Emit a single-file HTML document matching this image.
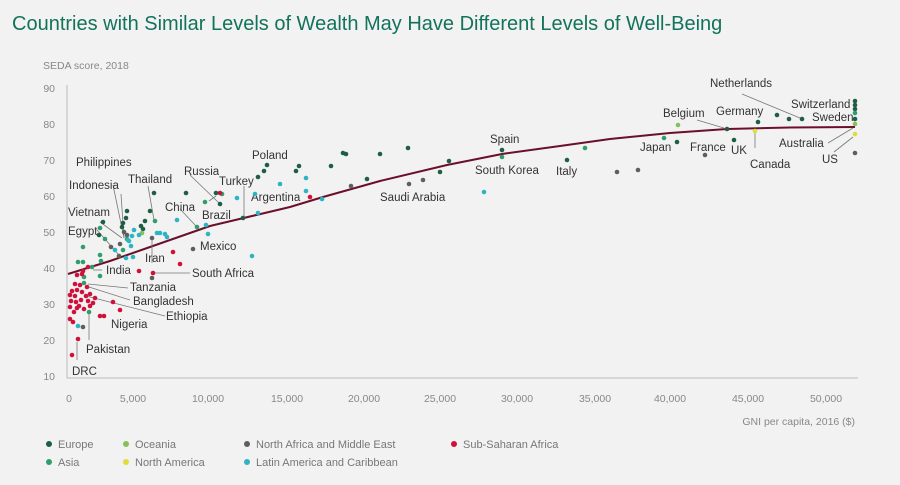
<!DOCTYPE html>
<html><head><meta charset="utf-8"><style>
body{margin:0;background:#f2f2f2;}
svg{display:block;font-family:"Liberation Sans",sans-serif;}
.l{font-size:11.5px;fill:#333;}
.t{font-size:10.5px;fill:#888;}
.g{font-size:11px;fill:#777;}
</style></head><body>
<svg width="900" height="485" viewBox="0 0 900 485">
<rect width="900" height="485" fill="#f2f2f2"/>
<text x="12" y="30" font-size="20" fill="#12735a">Countries with Similar Levels of Wealth May Have Different Levels of Well-Being</text>
<text x="43" y="69" class="t">SEDA score, 2018</text>
<g class="t" text-anchor="end">
<text x="55" y="92">90</text><text x="55" y="128">80</text><text x="55" y="164">70</text><text x="55" y="200">60</text><text x="55" y="236">50</text><text x="55" y="272">40</text><text x="55" y="308">30</text><text x="55" y="344">20</text><text x="55" y="380">10</text>
</g>
<g class="t" text-anchor="middle">
<text x="69" y="402">0</text><text x="133" y="402">5,000</text><text x="208" y="402">10,000</text><text x="287" y="402">15,000</text><text x="364" y="402">20,000</text><text x="440" y="402">25,000</text><text x="517" y="402">30,000</text><text x="595" y="402">35,000</text><text x="670" y="402">40,000</text><text x="748" y="402">45,000</text><text x="826" y="402">50,000</text>
</g>
<text x="855" y="425" class="t" text-anchor="end">GNI per capita, 2016 ($)</text>
<path d="M67,85V378H858" fill="none" stroke="#bbb" stroke-width="1"/>
<polyline points="68,274 110,261 150,247 210,226 290,207 323,197 380,181 447,165 502,154 560,146 610,139 670,133 727,129 790,127.5 855,127" fill="none" stroke="#6b0f2a" stroke-width="2"/>
<g stroke="#777" stroke-width="0.8" fill="none">
<path d="M742,94L800,118"/><path d="M697,120L724,128"/><path d="M828,143L853,128"/><path d="M834,152L853,137"/><path d="M755,148V131"/>
<path d="M190,175L219,203"/><path d="M244,186V217"/><path d="M216,196L209,201"/><path d="M180,209L196,226"/>
<path d="M148,186L154,220"/><path d="M121,194L124,238"/><path d="M113,185L124,238"/><path d="M100,222L122,238"/><path d="M97,230L119,255"/>
<path d="M152,263V238"/><path d="M190,273H154"/><path d="M102,270H93"/><path d="M128,288L88,284"/><path d="M130,300L89,287"/><path d="M165,316L86,296"/>
<path d="M89,340V314"/><path d="M77,360V342"/>
</g>
<g class="l">
<text x="710" y="87">Netherlands</text><text x="791" y="108">Switzerland</text><text x="812" y="121">Sweden</text><text x="663" y="117">Belgium</text><text x="716" y="115">Germany</text>
<text x="779" y="147">Australia</text><text x="822" y="163">US</text><text x="750" y="168">Canada</text><text x="731" y="154">UK</text><text x="690" y="151">France</text><text x="640" y="151">Japan</text>
<text x="490" y="143">Spain</text><text x="475" y="174">South Korea</text><text x="556" y="175">Italy</text><text x="380" y="201">Saudi Arabia</text>
<text x="252" y="159">Poland</text><text x="219" y="185">Turkey</text><text x="251" y="201">Argentina</text><text x="184" y="175">Russia</text><text x="202" y="219">Brazil</text><text x="165" y="211">China</text>
<text x="128" y="183">Thailand</text><text x="76" y="166">Philippines</text><text x="69" y="189">Indonesia</text><text x="68" y="216">Vietnam</text><text x="68" y="235">Egypt</text>
<text x="200" y="250">Mexico</text><text x="145" y="262">Iran</text><text x="106" y="274">India</text><text x="192" y="277">South Africa</text>
<text x="130" y="291">Tanzania</text><text x="133" y="305">Bangladesh</text><text x="166" y="320">Ethiopia</text><text x="111" y="328">Nigeria</text><text x="86" y="353">Pakistan</text><text x="72" y="375">DRC</text>
</g>
<g id="dots">
<!-- Europe -->
<g fill="#1d5e45">
<circle cx="855" cy="101" r="2.3"/><circle cx="855" cy="105" r="2.3"/><circle cx="855" cy="109" r="2.3"/><circle cx="855" cy="119" r="2.3"/><circle cx="758" cy="122" r="2.3"/><circle cx="777" cy="115" r="2.3"/><circle cx="789" cy="119" r="2.3"/><circle cx="802" cy="119" r="2.3"/><circle cx="727" cy="129" r="2.3"/><circle cx="677" cy="142" r="2.3"/><circle cx="734" cy="140" r="2.3"/>
<circle cx="502" cy="150" r="2.3"/><circle cx="567" cy="160" r="2.3"/><circle cx="440" cy="172" r="2.3"/><circle cx="449" cy="161" r="2.3"/><circle cx="408" cy="148" r="2.3"/><circle cx="380" cy="154" r="2.3"/><circle cx="343" cy="153" r="2.3"/><circle cx="346" cy="154" r="2.3"/><circle cx="331" cy="166" r="2.3"/><circle cx="367" cy="179" r="2.3"/><circle cx="296" cy="171" r="2.3"/><circle cx="299" cy="166" r="2.3"/>
<circle cx="267" cy="165" r="2.3"/><circle cx="264" cy="171" r="2.3"/><circle cx="258" cy="177" r="2.3"/><circle cx="243" cy="218" r="2.3"/><circle cx="216" cy="193" r="2.3"/><circle cx="220" cy="204" r="2.3"/><circle cx="186" cy="193" r="2.3"/><circle cx="154" cy="193" r="2.3"/><circle cx="150" cy="211" r="2.3"/><circle cx="145" cy="221" r="2.3"/><circle cx="141" cy="226" r="2.3"/><circle cx="143" cy="229" r="2.3"/><circle cx="127" cy="211" r="2.3"/><circle cx="126" cy="218" r="2.3"/><circle cx="123" cy="223" r="2.3"/><circle cx="122" cy="227" r="2.3"/><circle cx="103" cy="222" r="2.3"/><circle cx="99" cy="235" r="2.3"/>
</g>
<!-- Asia -->
<g fill="#2f9e6b">
<circle cx="855" cy="113" r="2.3"/><circle cx="664" cy="138" r="2.3"/><circle cx="502" cy="157" r="2.3"/><circle cx="585" cy="148" r="2.3"/><circle cx="222" cy="194" r="2.3"/><circle cx="205" cy="202" r="2.3"/><circle cx="197" cy="227" r="2.3"/><circle cx="155" cy="221" r="2.3"/><circle cx="127" cy="239" r="2.3"/><circle cx="123" cy="250" r="2.3"/><circle cx="100" cy="228" r="2.3"/><circle cx="105" cy="239" r="2.3"/><circle cx="83" cy="247" r="2.3"/><circle cx="78" cy="262" r="2.3"/><circle cx="83" cy="262" r="2.3"/><circle cx="100" cy="255" r="2.3"/><circle cx="101" cy="261" r="2.3"/><circle cx="100" cy="276" r="2.3"/><circle cx="92" cy="267" r="2.3"/><circle cx="84" cy="277" r="2.3"/><circle cx="84" cy="283" r="2.3"/><circle cx="89" cy="312" r="2.3"/>
</g>
<g fill="#86c05a"><circle cx="678" cy="125" r="2.3"/><circle cx="855" cy="124" r="2.3"/><circle cx="142" cy="233" r="2.3"/></g>
<g fill="#dede3a"><circle cx="855" cy="134" r="2.3"/><circle cx="755" cy="131" r="2.3"/></g>
<!-- grey -->
<g fill="#5e5e5e">
<circle cx="855" cy="153" r="2.3"/><circle cx="705" cy="155" r="2.3"/><circle cx="638" cy="170" r="2.3"/><circle cx="617" cy="172" r="2.3"/><circle cx="351" cy="186" r="2.3"/><circle cx="409" cy="184" r="2.3"/><circle cx="423" cy="180" r="2.3"/><circle cx="124" cy="232" r="2.3"/><circle cx="127" cy="235" r="2.3"/><circle cx="120" cy="244" r="2.3"/><circle cx="119" cy="256" r="2.3"/><circle cx="111" cy="247" r="2.3"/><circle cx="152" cy="238" r="2.3"/><circle cx="193" cy="249" r="2.3"/><circle cx="152" cy="278" r="2.3"/><circle cx="83" cy="327" r="2.3"/>
</g>
<!-- Latin -->
<g fill="#2bb5c2">
<circle cx="484" cy="192" r="2.3"/><circle cx="306" cy="178" r="2.3"/><circle cx="306" cy="191" r="2.3"/><circle cx="322" cy="199" r="2.3"/><circle cx="280" cy="184" r="2.3"/><circle cx="255" cy="194" r="2.3"/><circle cx="258" cy="213" r="2.3"/><circle cx="252" cy="256" r="2.3"/><circle cx="237" cy="198" r="2.3"/><circle cx="206" cy="225" r="2.3"/><circle cx="208" cy="234" r="2.3"/><circle cx="177" cy="220" r="2.3"/><circle cx="139" cy="235" r="2.3"/><circle cx="134" cy="230" r="2.3"/><circle cx="132" cy="236" r="2.3"/><circle cx="129" cy="241" r="2.3"/><circle cx="128" cy="240" r="2.3"/><circle cx="131" cy="246" r="2.3"/><circle cx="115" cy="250" r="2.3"/><circle cx="126" cy="258" r="2.3"/><circle cx="133" cy="257" r="2.3"/><circle cx="157" cy="233" r="2.3"/><circle cx="160" cy="233" r="2.3"/><circle cx="167" cy="237" r="2.3"/><circle cx="165" cy="234" r="2.3"/><circle cx="78" cy="326" r="2.3"/>
</g>
<!-- Sub-Saharan -->
<g fill="#d0103a">
<circle cx="310" cy="197" r="2.3"/><circle cx="220" cy="193" r="2.3"/><circle cx="173" cy="252" r="2.3"/><circle cx="180" cy="264" r="2.3"/><circle cx="139" cy="271" r="2.3"/><circle cx="153" cy="273" r="2.3"/><circle cx="88" cy="267" r="2.3"/><circle cx="83" cy="271" r="2.3"/><circle cx="77" cy="275" r="2.3"/><circle cx="82" cy="274" r="2.3"/><circle cx="87" cy="287" r="2.3"/>
<circle cx="75" cy="284" r="2.3"/><circle cx="80" cy="285" r="2.3"/><circle cx="72" cy="291" r="2.3"/><circle cx="77" cy="290" r="2.3"/><circle cx="82" cy="292" r="2.3"/><circle cx="70" cy="295" r="2.3"/><circle cx="75" cy="296" r="2.3"/><circle cx="86" cy="296" r="2.3"/><circle cx="90" cy="294" r="2.3"/><circle cx="71" cy="301" r="2.3"/><circle cx="76" cy="302" r="2.3"/><circle cx="81" cy="300" r="2.3"/><circle cx="88" cy="301" r="2.3"/><circle cx="95" cy="298" r="2.3"/><circle cx="70" cy="307" r="2.3"/><circle cx="74" cy="312" r="2.3"/><circle cx="79" cy="306" r="2.3"/><circle cx="84" cy="309" r="2.3"/><circle cx="90" cy="306" r="2.3"/><circle cx="93" cy="303" r="2.3"/><circle cx="70" cy="319" r="2.3"/><circle cx="73" cy="322" r="2.3"/><circle cx="77" cy="308" r="2.3"/><circle cx="113" cy="302" r="2.3"/><circle cx="120" cy="310" r="2.3"/><circle cx="100" cy="316" r="2.3"/><circle cx="104" cy="316" r="2.3"/><circle cx="78" cy="339" r="2.3"/><circle cx="72" cy="355" r="2.3"/>
</g>
</g>
<!-- legend -->
<g class="g">
<circle cx="49" cy="444" r="3" fill="#1d5e45"/><text x="58" y="448">Europe</text>
<circle cx="49" cy="462" r="3" fill="#2f9e6b"/><text x="58" y="466">Asia</text>
<circle cx="126" cy="444" r="3" fill="#86c05a"/><text x="135" y="448">Oceania</text>
<circle cx="126" cy="462" r="3" fill="#dede3a"/><text x="135" y="466">North America</text>
<circle cx="247" cy="444" r="3" fill="#5e5e5e"/><text x="256" y="448">North Africa and Middle East</text>
<circle cx="247" cy="462" r="3" fill="#2bb5c2"/><text x="256" y="466">Latin America and Caribbean</text>
<circle cx="454" cy="444" r="3" fill="#d0103a"/><text x="463" y="448">Sub-Saharan Africa</text>
</g>
</svg>
</body></html>
